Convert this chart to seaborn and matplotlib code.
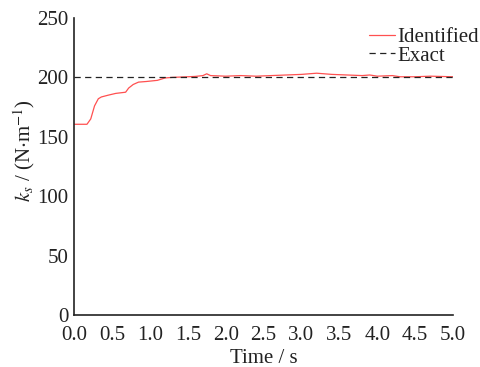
import matplotlib
matplotlib.use("Agg")
import matplotlib.pyplot as plt
import seaborn as sns
import pandas as pd

time_s = [0.0, 0.17, 0.22, 0.27, 0.32, 0.36, 0.45, 0.55, 0.68, 0.72, 0.78, 0.85,
          0.95, 1.1, 1.2, 1.3, 1.5, 1.6, 1.7, 1.75, 1.8, 2.0, 2.2, 2.4, 2.6, 2.8,
          3.0, 3.2, 3.4, 3.6, 3.8, 3.9, 4.0, 4.2, 4.3, 4.5, 4.7, 5.0]
identified = [160.5, 160.5, 165, 176, 182, 183.5, 185, 186.5, 187.5, 191, 194, 196,
              196.5, 197.5, 199.5, 200, 200.5, 200.8, 201.5, 203, 201.5, 201, 201.5,
              201, 201.5, 202, 202.5, 203.5, 202.5, 202, 201.5, 202, 201, 201.5,
              200.5, 200.5, 201, 200.5]
exact_t = [0.0, 5.0]
exact_v = [200, 200]

x_ticks = [0.0, 0.5, 1.0, 1.5, 2.0, 2.5, 3.0, 3.5, 4.0, 4.5, 5.0]
y_ticks = [0, 50, 100, 150, 200, 250]

sns.set_style("white")
plt.rcParams['font.family'] = ['Liberation Serif', 'DejaVu Serif']
plt.rcParams['mathtext.fontset'] = 'stix'

fig = plt.figure(figsize=(4.81, 3.67), dpi=100)
ax = fig.add_axes([0.154, 0.142, 0.788, 0.809])

df_id = pd.DataFrame({"t": time_s, "v": identified})
df_ex = pd.DataFrame({"t": exact_t, "v": exact_v})
sns.lineplot(data=df_id, x="t", y="v", ax=ax, color="#ff5050", lw=0.9,
             label="Identified", sort=False)
sns.lineplot(data=df_ex, x="t", y="v", ax=ax, color="#222222", lw=0.9,
             dashes=False, label="Exact")
ax.lines[1].set_dashes([5, 3.5])

ax.set_xlim(0, 5.0)
ax.set_ylim(0, 250)
ax.set_xticks(x_ticks)
ax.set_xticklabels([f"{v:.1f}" for v in x_ticks])
ax.set_yticks(y_ticks)
ax.tick_params(direction="in", length=4, width=1, labelsize=15, colors="#222222")
ax.tick_params(axis="x", pad=8)
ax.tick_params(axis="y", pad=4)
for s in ["top", "right"]:
    ax.spines[s].set_visible(False)
for s in ["left", "bottom"]:
    ax.spines[s].set_color("#222222")
    ax.spines[s].set_linewidth(1.2)

ax.set_xlabel("Time / s", fontsize=15, labelpad=3, color="#222222")
ax.set_ylabel(r"$k_s$ / (N$\cdot$m$^{-1}$)", fontsize=15, color="#222222")
ax.yaxis.set_label_coords(-0.097, 0.555)

leg = ax.legend(loc="upper right", bbox_to_anchor=(1.09, 0.996), frameon=False,
                fontsize=15, handlelength=1.25, handletextpad=0.1, labelspacing=-0.05,
                borderaxespad=0)
for t in leg.get_texts():
    t.set_color("#222222")

fig.savefig("out.png", dpi=100)
